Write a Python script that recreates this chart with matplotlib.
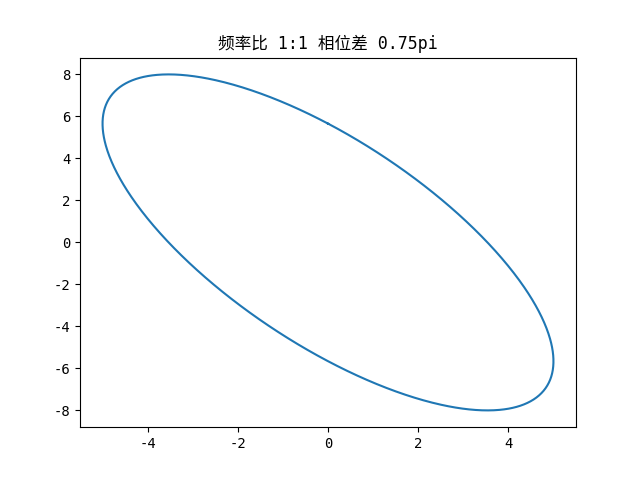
import numpy as np
import matplotlib
matplotlib.use("Agg")
import matplotlib.pyplot as plt

# SimHei-like look: monospaced latin glyphs, CJK from Noto
plt.rcParams['font.family'] = ['DejaVu Sans Mono', 'Noto Sans CJK SC']
plt.rcParams['axes.unicode_minus'] = False

amp_x = 5
amp_y = 8
freq_ratio = (1, 1)
phase = 0.75  # in units of pi
n_points = 1000

t = np.linspace(0, 2 * np.pi, n_points)
x = amp_x * np.sin(freq_ratio[0] * t)
y = amp_y * np.sin(freq_ratio[1] * t + phase * np.pi)

fig, ax = plt.subplots(figsize=(6.4, 4.8), dpi=100)
ax.plot(x, y)
ax.set_title("频率比 1:1 相位差 0.75pi")

fig.savefig("out.png")
